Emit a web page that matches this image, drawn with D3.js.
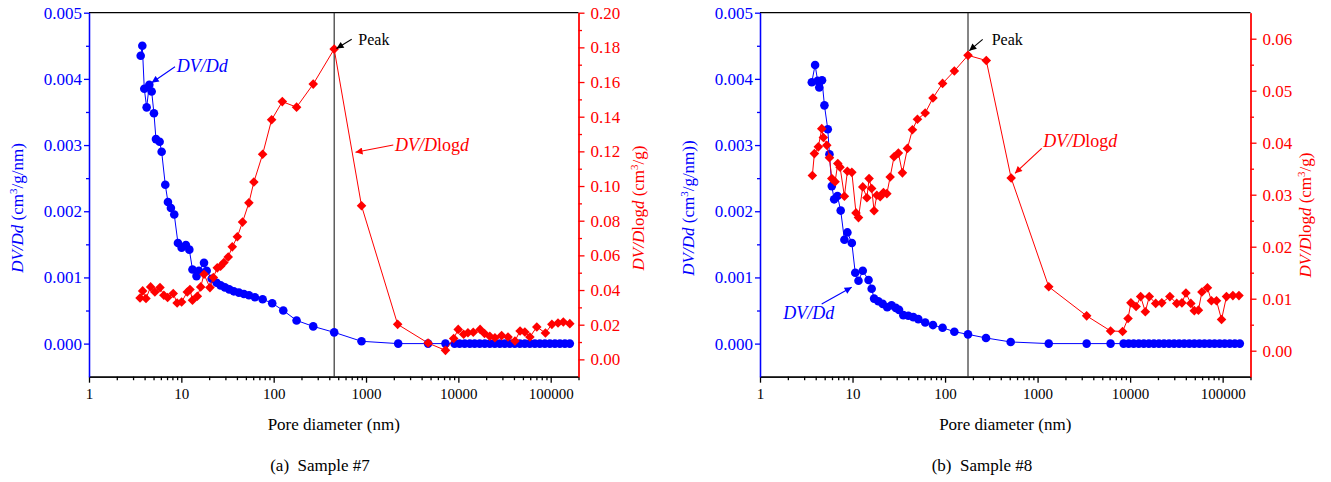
<!DOCTYPE html>
<html><head><meta charset="utf-8">
<script src="https://cdn.jsdelivr.net/npm/d3@7"></script>
<style>
body{margin:0;background:#fff;}
svg{display:block;}
svg text{font-family:"Liberation Serif","Times New Roman",serif;}
</style></head><body>
<svg id="c" width="1331" height="482"></svg>
<script>
// ---------- DATA ----------
const xTickValues = [1, 10, 100, 1000, 10000, 100000];
const xTickLabels = ["1", "10", "100", "1000", "10000", "100000"];
const ddTicks = [0, 0.001, 0.002, 0.003, 0.004, 0.005];
const logTicks7 = [0, 0.02, 0.04, 0.06, 0.08, 0.10, 0.12, 0.14, 0.16, 0.18, 0.20];
const logTicks8 = [0, 0.01, 0.02, 0.03, 0.04, 0.05, 0.06];

// Sample #7
const s7DdX = [3.63,3.78,3.97,4.21,4.5,4.77,5.05,5.31,5.82,6.12,6.7,7.16,7.71,8.38,9.19,10.07,11.2,12.2,13.2,14.6,15.5,17.6,18.8,21.3,24.1,26.6,29.6,33,37,42,47.6,54,62.6,75.9,96.4,127,177,268,452,894,2230,4700,7250,
  9100,10300,11700,13300,15000,17000,19300,21900,24800,28100,31800,36000,40800,46300,52400,59400,67300,76200,86400,97900,111000,125700,142400,161000];
const s7DdY = [0.00435,0.0045,0.00385,0.00357,0.00391,0.00381,0.00348,0.00309,0.00305,0.0029,0.0024,0.00214,0.00205,0.00195,0.00152,0.00145,0.00149,0.00142,0.00112,0.00102,0.0011,0.00122,0.0011,0.00098,0.00092,0.00088,0.00085,0.00082,0.00079,0.00077,0.00075,0.00073,0.0007,0.00067,0.00061,0.0005,0.00035,0.00026,0.00017,0.000035,0,0,0,
  0,0,0,0,0,0,0,0,0,0,0,0,0,0,0,0,0,0,0,0,0,0,0,0];
const s7LogX = [3.57,3.81,4.14,4.65,5.17,5.87,6.47,7.1,8.17,9.0,10.07,11.6,12.4,13.2,14.9,16.2,17.6,20.4,22.2,24.5,26.6,28.9,32.2,35.6,40.4,46.0,53.9,61,75.9,95,124,177,268,452,894,2200,4700,7250,
  8900,9960,11400,12700,14500,17200,19200,21900,24900,29400,34500,41000,46600,52500,59500,70700,87700,103000,120000,137000,161000];
const s7LogY = [0.0354,0.0395,0.0351,0.0418,0.0389,0.0414,0.037,0.0357,0.038,0.0325,0.0331,0.0389,0.0403,0.0341,0.0364,0.0418,0.0491,0.0414,0.0472,0.0528,0.0537,0.0559,0.0591,0.0649,0.0707,0.0792,0.0903,0.1023,0.1183,0.1382,0.1487,0.1455,0.1588,0.179,0.0886,0.0202,0.0094,0.0052,
  0.012,0.0173,0.0145,0.0154,0.0156,0.0173,0.0149,0.0133,0.0125,0.0137,0.0129,0.0106,0.0164,0.0158,0.0129,0.0187,0.0152,0.0202,0.021,0.0216,0.0206];

// Sample #8
const s8DdX = [3.63,3.94,4.2,4.37,4.68,4.97,5.4,5.63,5.97,6.33,6.87,7.45,8.17,8.8,9.83,10.7,11.6,12.9,14.9,16.1,17.1,19,21.2,23.7,26.4,29.3,31.8,35.4,40.1,45.4,51.4,61,74,94,126,177,277,512,1320,3390,6150,
  8500,9640,10930,12400,14060,15940,18080,20500,23250,26360,29900,33900,38450,43600,49440,56070,63580,72100,81760,92720,105100,119200,135200,153300];
const s8DdY = [0.00395,0.00421,0.00397,0.00387,0.00398,0.0036,0.00324,0.00286,0.00238,0.00218,0.00223,0.00201,0.00157,0.00168,0.00152,0.00107,0.00095,0.0011,0.00096,0.00083,0.00068,0.00064,0.0006,0.00055,0.00058,0.00054,0.00051,0.00043,0.00042,0.0004,0.00037,0.00032,0.00028,0.00024,0.00018,0.00014,0.000085,0.000025,0,0,0,
  0,0,0,0,0,0,0,0,0,0,0,0,0,0,0,0,0,0,0,0,0,0,0,0];
const s8LogX = [3.68,3.87,4.27,4.65,4.84,5.27,5.63,5.97,6.48,6.93,7.33,8.17,8.8,9.83,10.9,11.6,12.9,14.3,15.1,16.1,17.1,18.3,19.9,21.6,23.5,25.5,28.1,31.3,34.6,39.2,44.4,50.3,61,74,94,126,177,279,518,1320,3390,6150,
  8290,9500,10200,11600,13000,14600,16100,18900,22000,26900,31900,36300,40100,45300,49400,54700,59700,68500,75600,85800,97300,110000,129000,150000];
const s8LogY = [0.0337,0.0379,0.0392,0.0427,0.041,0.0395,0.0371,0.0331,0.0325,0.036,0.0353,0.0297,0.0345,0.0343,0.0265,0.0256,0.0315,0.0294,0.0331,0.0312,0.0269,0.0299,0.0296,0.0304,0.0302,0.0334,0.0373,0.038,0.0342,0.0389,0.0425,0.0445,0.0457,0.0486,0.0514,0.0538,0.0568,0.0558,0.0332,0.0123,0.0067,0.0038,
  0.0037,0.0062,0.0092,0.0085,0.0104,0.0075,0.0104,0.0091,0.0092,0.0104,0.0091,0.0092,0.0111,0.0091,0.0077,0.0078,0.0113,0.0121,0.0096,0.0096,0.006,0.0104,0.0106,0.0106];

// ---------- LAYOUT ----------
const BLUE = "#0000ff", RED = "#ff0000";
const FONT = 17;
const SERIF = '"Liberation Serif","Times New Roman",serif';
const charts = [
  { x0: 89, x1: 578.5, ddX: s7DdX, ddY: s7DdY, lgX: s7LogX, lgY: s7LogY,
    rDomain: [-0.01, 0.20], rTicks: logTicks7, rMinorStep: 0.01, rFmt: ".2f",
    leftTitleX: 23, rightTitleX: 644, rightTitleY: 208, leftParen: ")",
    caption: "(a)  Sample #7", captionX: 320,
    peakArrow: [[351.7, 39.3], [336.5, 48.5]], peakText: [358.3, 45],
    ddArrow: [[175, 66.7], [151.7, 82.7]], ddText: [176.7, 71.7],
    lgArrow: [[393.3, 145], [355.5, 152.3]], lgText: [395, 150.7] },
  { x0: 760, x1: 1250.5, ddX: s8DdX, ddY: s8DdY, lgX: s8LogX, lgY: s8LogY,
    rDomain: [-0.005, 0.065], rTicks: logTicks8, rMinorStep: 0.005, rFmt: ".2f",
    leftTitleX: 694, rightTitleX: 1311, rightTitleY: 215, leftParen: "))",
    caption: "(b)  Sample #8", captionX: 982,
    peakArrow: [[982.7, 39.3], [969.3, 50.7]], peakText: [991.7, 45],
    ddArrow: [[821.7, 304], [851.7, 287.3]], ddText: [783.3, 319.3],
    lgArrow: [[1041.7, 148.3], [1015, 173.3]], lgText: [1043.3, 146.7] }
];
const yTop = 12.7, yBot = 376.7;

const svg = d3.select("#c");
const defs = svg.append("defs");
[["k", "#000"], ["b", BLUE], ["r", RED]].forEach(([id, col]) => {
  defs.append("marker").attr("id", "ah-" + id).attr("viewBox", "0 0 10 10")
    .attr("refX", 10).attr("refY", 5).attr("markerWidth", 9).attr("markerHeight", 7)
    .attr("markerUnits", "userSpaceOnUse").attr("orient", "auto")
    .append("path").attr("d", "M0,0 L10,5 L0,10 Z").attr("fill", col);
});

function minorLog(lo, hi) {
  const out = [];
  for (let e = 0; e <= 5; e++) for (let m = 2; m <= 9; m++) {
    const v = m * Math.pow(10, e);
    if (v > lo && v <= hi) out.push(v);
  }
  return out;
}
function range(a, b, s) { const o = []; for (let v = a; v <= b + 1e-12; v += s) o.push(+v.toFixed(6)); return o; }

charts.forEach(c => {
  const g = svg.append("g");
  const x = d3.scaleLog().domain([1, 200000]).range([c.x0, c.x1]);
  const yL = d3.scaleLinear().domain([-0.0005, 0.005]).range([yBot, yTop]);
  const yR = d3.scaleLinear().domain(c.rDomain).range([yBot, yTop]);

  g.append("line").attr("x1", c.x0).attr("x2", c.x1).attr("y1", yTop).attr("y2", yTop)
    .attr("stroke", "#000").attr("stroke-width", 1.3);

  const xa = g.append("g").attr("transform", `translate(0,${yBot})`)
    .call(d3.axisBottom(x).tickValues(xTickValues).tickFormat((d, i) => xTickLabels[i]).tickSize(6).tickPadding(6).tickSizeOuter(0));
  const xm = g.append("g").attr("transform", `translate(0,${yBot})`)
    .call(d3.axisBottom(x).tickValues(minorLog(1, 200000)).tickFormat("").tickSize(3.5).tickSizeOuter(0));
  [xa, xm].forEach(a => { a.selectAll("path,line").attr("stroke", "#000").attr("stroke-width", 1.3); });
  xa.selectAll("text").attr("fill", "#000").style("font-size", "15px").style("font-family", SERIF);

  const la = g.append("g").attr("transform", `translate(${c.x0},0)`)
    .call(d3.axisLeft(yL).tickValues(ddTicks).tickFormat(d3.format(".3f")).tickSize(5).tickPadding(2).tickSizeOuter(0));
  const lm = g.append("g").attr("transform", `translate(${c.x0},0)`)
    .call(d3.axisLeft(yL).tickValues(range(0.0005, 0.0045, 0.001)).tickFormat("").tickSize(3).tickSizeOuter(0));
  [la, lm].forEach(a => a.selectAll("path,line").attr("stroke", BLUE).attr("stroke-width", 1.3));
  la.selectAll("text").attr("fill", BLUE).style("font-size", FONT + "px").style("font-family", SERIF);

  const ra = g.append("g").attr("transform", `translate(${c.x1},0)`)
    .call(d3.axisRight(yR).tickValues(c.rTicks).tickFormat(d3.format(c.rFmt)).tickSize(6).tickPadding(6).tickSizeOuter(0));
  const minors = range(c.rDomain[0], c.rDomain[1], c.rMinorStep).filter(v => !c.rTicks.some(t => Math.abs(t - v) < 1e-9) && v > c.rDomain[0] + 1e-9 && v < c.rDomain[1] - 1e-9);
  const rm = g.append("g").attr("transform", `translate(${c.x1},0)`)
    .call(d3.axisRight(yR).tickValues(minors).tickFormat("").tickSize(3.5).tickSizeOuter(0));
  [ra, rm].forEach(a => a.selectAll("path,line").attr("stroke", RED).attr("stroke-width", 1.3));
  ra.selectAll("text").attr("fill", RED).style("font-size", FONT + "px").style("font-family", SERIF);

  const pk = d3.maxIndex(c.lgY);
  g.append("line").attr("x1", x(c.lgX[pk])).attr("x2", x(c.lgX[pk])).attr("y1", yTop).attr("y2", yBot)
    .attr("stroke", "#222").attr("stroke-width", 1.1);

  const ddPts = d3.zip(c.ddX, c.ddY);
  g.append("path").datum(ddPts).attr("fill", "none").attr("stroke", BLUE).attr("stroke-width", 1)
    .attr("d", d3.line().x(d => x(d[0])).y(d => yL(d[1])));
  g.append("g").selectAll("circle").data(ddPts).join("circle")
    .attr("cx", d => x(d[0])).attr("cy", d => yL(d[1])).attr("r", 4.3).attr("fill", BLUE);

  const lgPts = d3.zip(c.lgX, c.lgY);
  g.append("path").datum(lgPts).attr("fill", "none").attr("stroke", RED).attr("stroke-width", 1)
    .attr("d", d3.line().x(d => x(d[0])).y(d => yR(d[1])));
  const sym = d3.symbol(d3.symbolSquare, 46);
  g.append("g").selectAll("path").data(lgPts).join("path")
    .attr("d", sym).attr("fill", RED)
    .attr("transform", d => `translate(${x(d[0])},${yR(d[1])}) rotate(45)`);

  const arrow = (pts, col, id) => g.append("line")
    .attr("x1", pts[0][0]).attr("y1", pts[0][1]).attr("x2", pts[1][0]).attr("y2", pts[1][1])
    .attr("stroke", col).attr("stroke-width", 1.1).attr("marker-end", `url(#ah-${id})`);
  arrow(c.peakArrow, "#000", "k");
  arrow(c.ddArrow, BLUE, "b");
  arrow(c.lgArrow, RED, "r");
  g.append("text").attr("x", c.peakText[0]).attr("y", c.peakText[1]).attr("font-size", 16).attr("fill", "#000").text("Peak");
  g.append("text").attr("x", c.ddText[0]).attr("y", c.ddText[1]).attr("font-size", 18).attr("fill", BLUE)
    .attr("font-style", "italic").text("DV/Dd");
  const lt = g.append("text").attr("x", c.lgText[0]).attr("y", c.lgText[1]).attr("font-size", 18).attr("fill", RED);
  lt.append("tspan").attr("font-style", "italic").text("DV/D");
  lt.append("tspan").text("log");
  lt.append("tspan").attr("font-style", "italic").text("d");

  g.append("text").attr("x", (c.x0 + c.x1) / 2).attr("y", 430).attr("text-anchor", "middle")
    .attr("font-size", 17).text("Pore diameter (nm)");
  g.append("text").attr("x", c.captionX).attr("y", 471).attr("text-anchor", "middle")
    .attr("font-size", 17).attr("xml:space", "preserve").style("white-space", "pre").text(c.caption);

  const lTitle = g.append("text").attr("transform", `translate(${c.leftTitleX},208) rotate(-90)`)
    .attr("text-anchor", "middle").attr("font-size", 17).attr("fill", BLUE);
  lTitle.append("tspan").attr("font-style", "italic").text("DV/Dd");
  lTitle.append("tspan").text(" (cm");
  lTitle.append("tspan").attr("font-size", 11).attr("dy", -6).text("3");
  lTitle.append("tspan").attr("dy", 6).text("/g/nm" + c.leftParen);

  const rTitle = g.append("text").attr("transform", `translate(${c.rightTitleX},${c.rightTitleY}) rotate(-90)`)
    .attr("text-anchor", "middle").attr("font-size", 17).attr("fill", RED);
  rTitle.append("tspan").attr("font-style", "italic").text("DV/D");
  rTitle.append("tspan").text("log");
  rTitle.append("tspan").attr("font-style", "italic").text("d");
  rTitle.append("tspan").text(" (cm");
  rTitle.append("tspan").attr("font-size", 11).attr("dy", -6).text("3");
  rTitle.append("tspan").attr("dy", 6).text("/g)");
});
</script>
</body></html>
